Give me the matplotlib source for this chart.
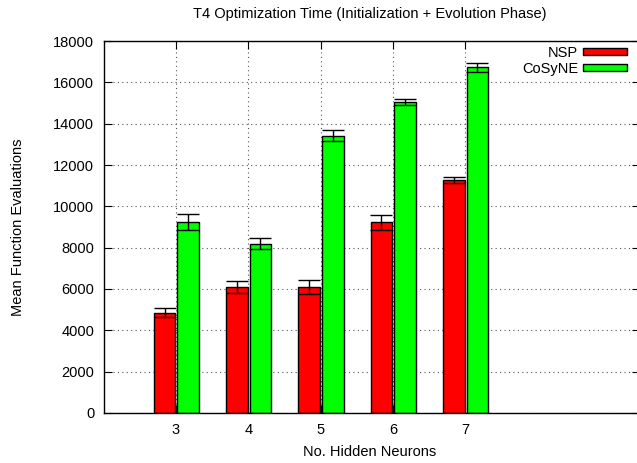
import matplotlib
matplotlib.use("Agg")
import matplotlib.pyplot as plt
from matplotlib.patches import Patch
import numpy as np

neurons = [3, 4, 5, 6, 7]
nsp_mean = [4860, 6090, 6100, 9220, 11270]
nsp_err = [200, 300, 350, 370, 160]
cosyne_mean = [9230, 8180, 13410, 15050, 16720]
cosyne_err = [380, 265, 270, 130, 225]
y_ticks = [0, 2000, 4000, 6000, 8000, 10000, 12000, 14000, 16000, 18000]

plt.rcParams['font.family'] = ['Liberation Sans', 'DejaVu Sans']
FS = 10.5

W, H = 637, 463
fig = plt.figure(figsize=(W / 100, H / 100), dpi=100)
L, R, T, B = 104, 640, 41, 413
ax = fig.add_axes([L / W, (H - B) / H, (R - L) / W, (B - T) / H])

x = np.array(neurons, dtype=float)
bw = 0.30
xr = x - 0.158
xg = x + 0.168

ax.bar(xr, nsp_mean, width=bw, color='#ff0000', edgecolor='black', linewidth=1.0, zorder=2)
ax.bar(xg, cosyne_mean, width=bw, color='#00ff00', edgecolor='black', linewidth=1.0, zorder=2)
ax.errorbar(xr, nsp_mean, yerr=nsp_err, fmt='none', ecolor='black', elinewidth=1.0,
            capsize=7.9, capthick=1.0, zorder=3)
ax.errorbar(xg, cosyne_mean, yerr=cosyne_err, fmt='none', ecolor='black', elinewidth=1.0,
            capsize=7.9, capthick=1.0, zorder=3)

ax.set_xlim(2.004, 3 + (R - 176) / 72.3)
ax.set_ylim(0, 18000)
ax.set_xticks(neurons)
ax.set_xticklabels([str(n) for n in neurons])
ax.set_yticks(y_ticks)
ax.set_yticklabels([str(v) for v in y_ticks])
ax.tick_params(direction='in', top=True, right=True, length=6, width=0.8,
               labelsize=FS, colors='black', pad=7)
ax.set_axisbelow(True)
ax.grid(True, linestyle=(0, (1, 3)), color='#555555', linewidth=0.8)
for s in ax.spines.values():
    s.set_linewidth(1.0)

fig.text(370 / W, 1 - 14 / H, 'T4 Optimization Time (Initialization + Evolution Phase)',
         ha='center', va='center', fontsize=FS)
fig.text(370 / W, 1 - 452 / H, 'No. Hidden Neurons', ha='center', va='center', fontsize=FS)
fig.text(18 / W, 1 - 227 / H, 'Mean Function Evaluations', ha='center', va='center',
         rotation=90, fontsize=FS)

handles = [Patch(facecolor='#ff0000', edgecolor='black', linewidth=1.0),
           Patch(facecolor='#00ff00', edgecolor='black', linewidth=1.0)]
leg = ax.legend(handles, ['NSP', 'CoSyNE'], loc='upper right',
                bbox_to_anchor=(627 / W, 1 - 46 / H), bbox_transform=fig.transFigure,
                frameon=False, markerfirst=False, fontsize=FS, borderpad=0,
                borderaxespad=0, handlelength=3.0, handleheight=0.35,
                handletextpad=0.35, labelspacing=0.12)

fig.savefig('out.png', dpi=100)
